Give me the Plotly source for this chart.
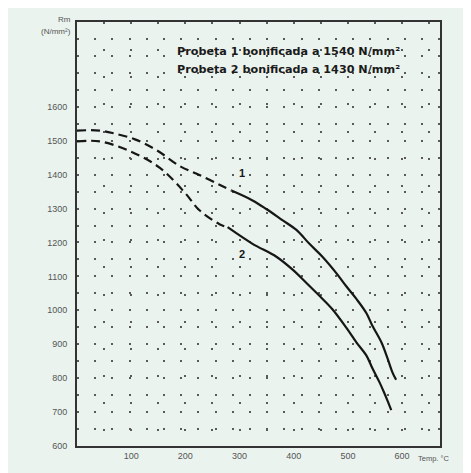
import plotly.graph_objects as go

# Temperature (°C) and strength (N/mm²)
temp_1 = [0, 42, 70, 107, 147, 190, 226, 263, 285, 324, 350, 379, 405, 429, 453, 479, 497, 516, 534, 545, 562, 573, 582, 589]
rm_1 = [1530, 1530, 1521, 1504, 1472, 1425, 1399, 1370, 1353, 1324, 1298, 1266, 1237, 1196, 1158, 1109, 1071, 1033, 992, 955, 905, 859, 818, 795]
temp_2 = [0, 42, 98, 153, 199, 226, 263, 278, 324, 368, 398, 424, 448, 471, 497, 516, 534, 545, 558, 567, 574, 580]
rm_2 = [1498, 1498, 1469, 1420, 1347, 1295, 1254, 1245, 1196, 1158, 1120, 1080, 1042, 1004, 949, 905, 867, 830, 789, 757, 730, 706]
dash_end_1 = 8   # index where the dashed part ends
dash_end_2 = 7
legend_texts = ["Probeta 1 bonificada a 1540 N/mm²", "Probeta 2 bonificada a 1430 N/mm²"]
x_ticks = [100, 200, 300, 400, 500, 600]
y_ticks = [600, 700, 800, 900, 1000, 1100, 1200, 1300, 1400, 1500, 1600]

ink = "#161616"
fig = go.Figure()
for tx, ry, k in [(temp_1, rm_1, dash_end_1), (temp_2, rm_2, dash_end_2)]:
    fig.add_trace(go.Scatter(x=tx[:k + 1], y=ry[:k + 1], mode="lines", line_shape="spline",
                             line=dict(color=ink, width=2.2, dash="9px,5px"), showlegend=False))
    fig.add_trace(go.Scatter(x=tx[k:], y=ry[k:], mode="lines", line_shape="spline",
                             line=dict(color=ink, width=2.2), showlegend=False))

bg = "#eaf3ee"
grid_c = "#5a5a5a"
fig.update_layout(
    width=463, height=465,
    margin=dict(l=69, r=31, t=14, b=21),
    paper_bgcolor=bg, plot_bgcolor=bg,
    font=dict(family="Liberation Sans, Arial, sans-serif", color="#444", size=9),
    xaxis=dict(range=[0, 670], tickvals=x_ticks, ticks="", showline=True, linecolor="#333", linewidth=2,
               mirror=True, showgrid=True, gridcolor=grid_c, gridwidth=1.5, griddash="2px,25.15px",
               minor=dict(tickvals=[50, 150, 250, 350, 450, 550, 650], showgrid=True, gridcolor=grid_c,
                          gridwidth=1.5, griddash="2px,25.15px"),
               zeroline=False, tickfont=dict(size=9, color="#555")),
    yaxis=dict(range=[600, 1850], tickvals=y_ticks, ticks="", showline=True, linecolor="#333", linewidth=2,
               mirror=True, showgrid=True, gridcolor=grid_c, gridwidth=1.5, griddash="2px,15.2px",
               minor=dict(tickvals=[650, 750, 850, 950, 1050, 1150, 1250, 1350, 1450, 1550, 1650, 1700, 1750, 1800],
                          showgrid=True, gridcolor=grid_c, gridwidth=1.5, griddash="2px,15.2px"),
               zeroline=False, tickfont=dict(size=9, color="#555"), ticklabelstandoff=6),
)

for i, yy in enumerate([0.951, 0.907]):
    fig.add_annotation(xref="paper", yref="paper", x=0.27, y=yy, text="<b>" + legend_texts[i] + "</b>",
                       showarrow=False, xanchor="left",
                       font=dict(family="DejaVu Sans, sans-serif", size=11.2, color="#1a1a1a"))
fig.add_annotation(x=304, y=1405, text="<b>1</b>", showarrow=False, font=dict(size=11, color=ink))
fig.add_annotation(x=304, y=1167, text="<b>2</b>", showarrow=False, font=dict(size=11, color=ink))
fig.add_annotation(xref="paper", yref="paper", x=-0.01, y=1.021, text="Rm", showarrow=False,
                   xanchor="right", font=dict(size=8, color="#555"))
fig.add_annotation(xref="paper", yref="paper", x=-0.01, y=0.993, text="(N/mm²)", showarrow=False,
                   xanchor="right", font=dict(size=8, color="#555"))
fig.add_annotation(xref="paper", yref="paper", x=0.935, y=-0.015, text="Temp. °C", showarrow=False,
                   xanchor="left", yanchor="top", font=dict(size=7.5, color="#555"))

fig.write_html("out.html")
